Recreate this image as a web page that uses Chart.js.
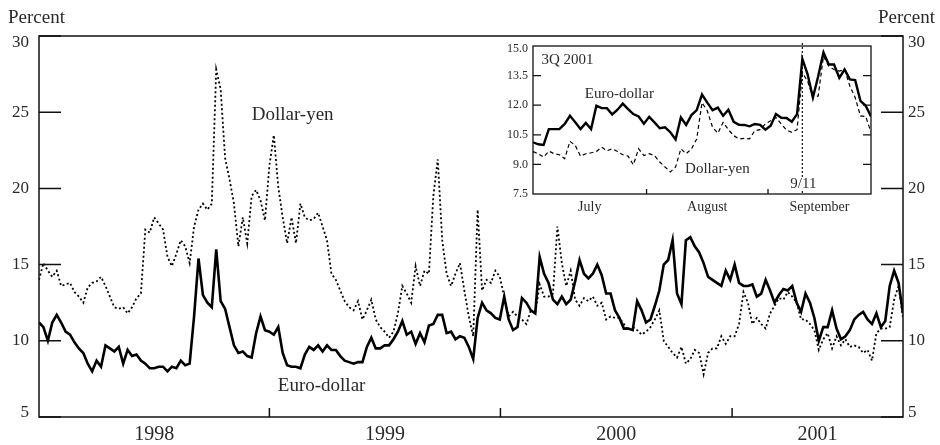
<!DOCTYPE html>
<html>
<head>
<meta charset="utf-8">
<script src="https://cdn.jsdelivr.net/npm/chart.js@4.4.1/dist/chart.umd.min.js"></script>
<style>
  body { margin: 0; background: #fff; }
  #wrap { position: relative; width: 940px; height: 445px; }
  #main { position: absolute; left: 0; top: 0; }
  #inset { position: absolute; left: 480px; top: 30px; }
</style>
</head>
<body>
<div id="wrap">
  <canvas id="main" width="940" height="445"></canvas>
  <canvas id="inset" width="400" height="200"></canvas>
</div>
<script>
/* main chart: weekly readings, first week starts 1998-01-02 */
const firstWeek = new Date('1998-01-02')
const years = ['1998', '1999', '2000', '2001']
const percentTicks = [5, 10, 15, 20, 25, 30]

const euroDollar = [
  11.2, 10.9, 10.0, 11.2, 11.7, 11.2, 10.6, 10.4, 9.9, 9.5,
  9.2, 8.5, 8.0, 8.7, 8.3, 9.7, 9.5, 9.3, 9.6, 8.5,
  9.4, 9.0, 9.1, 8.7, 8.5, 8.2, 8.2, 8.3, 8.3, 8.0,
  8.3, 8.2, 8.7, 8.4, 8.5, 11.6, 15.4, 13.0, 12.5, 12.2,
  16.0, 12.6, 12.1, 10.9, 9.7, 9.2, 9.3, 9.0, 8.9, 10.5,
  11.6, 10.7, 10.6, 10.4, 10.9, 9.2, 8.4, 8.3, 8.3, 8.2,
  9.1, 9.6, 9.4, 9.7, 9.3, 9.7, 9.4, 9.4, 9.0, 8.7,
  8.6, 8.5, 8.6, 8.6, 9.6, 10.2, 9.5, 9.5, 9.7, 9.7,
  10.1, 10.6, 11.3, 10.4, 10.6, 9.8, 10.5, 9.9, 11.0, 11.1,
  11.7, 11.7, 10.5, 10.6, 10.1, 10.3, 10.2, 9.6, 8.8, 11.5,
  12.5, 12.0, 11.8, 11.5, 11.4, 12.9, 11.4, 10.7, 10.9, 12.8,
  12.5, 12.0, 11.8, 15.5, 14.4, 13.8, 12.7, 12.4, 12.9, 12.4,
  12.7, 13.9, 15.3, 14.4, 14.1, 14.4, 15.0, 14.3, 13.1, 13.1,
  12.0, 11.5, 10.8, 10.8, 10.7, 12.6, 12.0, 11.2, 11.4, 12.3,
  13.3, 15.0, 15.3, 16.6, 13.1, 12.4, 16.6, 16.8, 16.2, 15.8,
  15.1, 14.2, 14.0, 13.8, 13.6, 14.6, 14.0, 15.0, 13.8, 13.6,
  13.6, 13.7, 12.9, 13.1, 14.0, 13.3, 12.5, 13.0, 13.4, 13.3,
  13.6, 12.5, 11.9, 13.1, 12.5, 11.5, 10.0, 10.9, 10.9, 12.0,
  10.8, 10.1, 10.3, 10.7, 11.4, 11.7, 11.9, 11.4, 11.1, 11.8,
  10.9, 11.3, 13.6, 14.6, 13.8, 11.8
]

const dollarYen = [
  14.0, 15.1, 14.6, 14.2, 14.6, 13.6, 13.7, 13.8, 13.2, 12.9,
  12.5, 13.5, 13.8, 13.9, 14.2, 13.6, 12.9, 12.2, 12.1, 12.2,
  11.8, 12.2, 12.8, 13.1, 17.3, 17.1, 18.1, 17.7, 17.3, 15.5,
  14.9, 15.7, 16.6, 16.2, 15.1, 17.5, 18.6, 19.0, 18.6, 19.0,
  27.8, 26.5, 22.0, 20.6, 19.0, 16.2, 18.1, 16.4, 19.5, 19.9,
  19.2, 17.9, 21.5, 23.5, 20.1, 18.1, 16.4, 18.1, 16.4, 19.0,
  18.1, 17.9, 18.0, 18.4, 17.5, 16.6, 14.4, 14.0, 13.3, 12.6,
  12.2, 12.0, 12.6, 11.4, 12.0, 12.7, 11.4, 10.9, 10.6, 10.2,
  10.6, 11.8, 13.6, 13.1, 12.5, 14.9, 13.6, 14.6, 14.4, 19.5,
  21.9, 16.6, 14.4, 13.6, 14.4, 15.1, 13.3, 11.6, 10.3, 18.6,
  13.3, 14.0, 13.8, 14.6, 14.2, 12.9, 11.6, 11.9, 11.6, 11.4,
  11.1, 12.0, 11.8, 13.7, 12.9, 12.9, 13.1, 17.5, 15.1, 13.6,
  14.6, 12.7, 12.3, 12.8, 12.6, 12.9, 12.3, 12.5, 11.4, 11.6,
  11.5, 11.5, 11.1, 10.7, 10.9, 10.7, 10.4, 10.6, 10.9, 11.4,
  12.0, 10.0, 9.6, 9.2, 8.9, 9.6, 8.5, 8.8, 9.4, 9.2,
  7.8, 9.2, 9.5, 9.5, 10.3, 9.8, 10.3, 10.3, 11.1, 13.2,
  12.5, 11.1, 11.5, 11.1, 10.8, 11.8, 12.3, 12.8, 12.7, 13.2,
  12.9, 12.5, 11.4, 11.4, 11.1, 10.7, 9.4, 10.1, 10.5, 9.5,
  10.3, 9.7, 10.1, 9.6, 9.7, 9.6, 9.2, 9.4, 8.7, 10.5,
  10.8, 10.8, 10.9, 12.7, 13.6, 11.5
]

/* inset: business days of 3Q 2001 */
const months = ['July', 'August', 'September']
const monthDays = [22, 23, 20]
const insetTicks = [7.5, 9.0, 10.5, 12.0, 13.5, 15.0]
const sept11 = 51

const insetEuro = [
  10.12, 10.02, 9.99, 10.79, 10.79, 10.79, 11.05, 11.46, 11.13, 10.79,
  11.10, 10.79, 11.97, 11.85, 11.85, 11.53, 11.77, 12.08, 11.80, 11.55,
  11.43, 11.06, 11.41, 11.13, 10.83, 10.88, 10.63, 10.26, 11.38, 11.00,
  11.50, 11.75, 12.54, 12.13, 11.75, 11.88, 11.46, 11.77, 11.16, 11.01,
  11.00, 10.93, 11.05, 11.00, 10.76, 10.96, 11.55, 11.36, 11.35, 11.16,
  11.55, 14.35, 13.56, 12.39, 13.47, 14.68, 14.06, 14.06, 13.39, 13.81,
  13.31, 13.27, 12.22, 11.97, 11.43
]

const insetYen = [
  9.65, 9.54, 9.37, 9.67, 9.54, 9.49, 9.29, 10.17, 9.96, 9.42,
  9.54, 9.59, 9.65, 9.87, 9.69, 9.79, 9.65, 9.49, 9.42, 8.98,
  9.79, 9.45, 9.54, 9.45, 9.12, 8.87, 8.62, 8.87, 9.79, 9.54,
  9.79, 10.29, 12.13, 11.72, 10.88, 10.58, 11.13, 10.76, 10.46, 10.29,
  10.32, 10.29, 10.71, 10.76, 11.05, 11.21, 11.38, 11.05, 10.74, 10.63,
  10.76, 13.64, 13.22, 12.39, 12.47, 14.48, 13.98, 13.81, 13.73, 13.81,
  12.97, 12.39, 11.46, 11.43, 10.63
]

const serif = '"Liberation Serif", "Times New Roman", serif'
const toPoints = (arr) => arr.map((v, i) => ({ x: i, y: v }))
const weekOf = (d) => (new Date(d) - firstWeek) / (7 * 864e5)

/* week index where each year begins */
const yearStarts = years.slice(1).map(y => weekOf(`${y}-01-01`))

const mainFrame = {
  id: 'mainFrame',
  afterDraw(chart) {
    const { ctx, chartArea: a, scales: { x, y } } = chart
    ctx.save()
    ctx.strokeStyle = '#111'
    ctx.lineWidth = 1.5
    ctx.strokeRect(a.left, a.top, a.right - a.left, a.bottom - a.top)
    percentTicks.forEach(v => {
      const py = y.getPixelForValue(v)
      ctx.beginPath()
      ctx.moveTo(a.left, py); ctx.lineTo(a.left + 22, py)
      ctx.moveTo(a.right, py); ctx.lineTo(a.right - 22, py)
      ctx.stroke()
    })
    yearStarts.forEach(w => {
      const px = x.getPixelForValue(w)
      ctx.beginPath()
      ctx.moveTo(px, a.bottom); ctx.lineTo(px, a.bottom - 9)
      ctx.stroke()
    })

    ctx.fillStyle = '#2a2a2a'
    ctx.textBaseline = 'middle'
    ctx.font = `17px ${serif}`
    percentTicks.forEach((v, i) => {
      let py = y.getPixelForValue(v)
      if (i === 0) py -= 4
      if (i === percentTicks.length - 1) py += 7
      ctx.textAlign = 'right'
      ctx.fillText(String(v), a.left - 10, py)
      ctx.textAlign = 'left'
      ctx.fillText(String(v), a.right + 5, py)
    })
    ctx.font = `19px ${serif}`
    ctx.textAlign = 'left'
    ctx.fillText('Percent', 8, 18)
    ctx.textAlign = 'right'
    ctx.fillText('Percent', 935, 18)

    ctx.font = `20px ${serif}`
    ctx.textAlign = 'center'
    const edges = [x.min, ...yearStarts, x.max]
    years.forEach((yr, i) => {
      const px = (x.getPixelForValue(edges[i]) + x.getPixelForValue(edges[i + 1])) / 2
      ctx.fillText(yr, px, a.bottom + 18)
    })

    ctx.font = `19px ${serif}`
    ctx.textAlign = 'left'
    ctx.fillText('Dollar-yen', x.getPixelForValue(48), y.getPixelForValue(24.8))
    ctx.fillText('Euro-dollar', x.getPixelForValue(53.9), y.getPixelForValue(7.05))
    ctx.restore()
  }
}

new Chart(document.querySelector('#main'), {
  type: 'line',
  data: {
    datasets: [
      { label: 'Euro-dollar', data: toPoints(euroDollar), borderColor: '#000', borderWidth: 2.6 },
      { label: 'Dollar-yen', data: toPoints(dollarYen), borderColor: '#000', borderWidth: 1.8, borderDash: [2, 2.5] }
    ]
  },
  options: {
    responsive: false,
    animation: false,
    layout: { padding: { left: 39, right: 37, top: 36, bottom: 28 } },
    elements: { point: { radius: 0 }, line: { tension: 0 } },
    plugins: { legend: { display: false }, tooltip: { enabled: false } },
    scales: {
      x: { type: 'linear', display: false, min: 0, max: euroDollar.length - 1 },
      y: { display: false, min: 5, max: 30 }
    }
  },
  plugins: [mainFrame]
})

/* month edges in business-day index */
const monthEdges = []
monthDays.reduce((sum, n) => { monthEdges.push(sum + n - 0.5); return sum + n }, 0)

const insetFrame = {
  id: 'insetFrame',
  beforeDatasetsDraw(chart) {
    const { ctx, chartArea: a, scales: { x } } = chart
    ctx.save()
    ctx.fillStyle = '#fff'
    ctx.fillRect(a.left, a.top, a.right - a.left, a.bottom - a.top)
    const px = x.getPixelForValue(sept11)
    ctx.strokeStyle = '#111'
    ctx.lineWidth = 1.2
    ctx.setLineDash([2, 2])
    ctx.beginPath()
    ctx.moveTo(px, a.top - 3); ctx.lineTo(px, a.bottom)
    ctx.stroke()
    ctx.restore()
  },
  afterDraw(chart) {
    const { ctx, chartArea: a, scales: { x, y } } = chart
    ctx.save()
    ctx.strokeStyle = '#111'
    ctx.lineWidth = 1.3
    ctx.strokeRect(a.left, a.top, a.right - a.left, a.bottom - a.top)
    insetTicks.slice(1, -1).forEach(v => {
      const py = y.getPixelForValue(v)
      ctx.beginPath()
      ctx.moveTo(a.left, py); ctx.lineTo(a.left + 8, py)
      ctx.moveTo(a.right, py); ctx.lineTo(a.right - 8, py)
      ctx.stroke()
    })
    monthEdges.slice(0, -1).forEach(d => {
      const px = x.getPixelForValue(d)
      ctx.beginPath()
      ctx.moveTo(px, a.bottom); ctx.lineTo(px, a.bottom - 5)
      ctx.stroke()
    })

    ctx.fillStyle = '#2a2a2a'
    ctx.textBaseline = 'middle'
    ctx.font = `12px ${serif}`
    ctx.textAlign = 'right'
    insetTicks.forEach((v, i) => {
      let py = y.getPixelForValue(v)
      if (i === insetTicks.length - 1) py += 3
      ctx.fillText(v.toFixed(1), a.left - 5, py)
    })
    ctx.font = `14px ${serif}`
    ctx.textAlign = 'center'
    const edges = [x.min, ...monthEdges.slice(0, -1), x.max]
    months.forEach((m, i) => {
      const px = (x.getPixelForValue(edges[i]) + x.getPixelForValue(edges[i + 1])) / 2
      ctx.fillText(m, px, a.bottom + 13)
    })

    ctx.font = `15px ${serif}`
    ctx.textAlign = 'left'
    ctx.fillText('3Q 2001', x.getPixelForValue(1.6), y.getPixelForValue(14.3))
    ctx.fillText('Euro-dollar', x.getPixelForValue(9.8), y.getPixelForValue(12.55))
    ctx.fillText('Dollar-yen', x.getPixelForValue(28.8), y.getPixelForValue(8.77))

    /* 9/11 label sits on a white patch that breaks the dotted line */
    const lx = x.getPixelForValue(sept11 + 0.2)
    const ly = y.getPixelForValue(8.0)
    const w = ctx.measureText('9/11').width
    ctx.fillStyle = '#fff'
    ctx.fillRect(lx - w / 2 - 1, ly - 7, w + 2, 13)
    ctx.fillStyle = '#2a2a2a'
    ctx.textAlign = 'center'
    ctx.fillText('9/11', lx, ly)
    ctx.restore()
  }
}

new Chart(document.querySelector('#inset'), {
  type: 'line',
  data: {
    datasets: [
      { label: 'Euro-dollar', data: toPoints(insetEuro), borderColor: '#000', borderWidth: 2.4 },
      { label: 'Dollar-yen', data: toPoints(insetYen), borderColor: '#000', borderWidth: 1.2, borderDash: [4, 3] }
    ]
  },
  options: {
    responsive: false,
    animation: false,
    layout: { padding: { left: 53, right: 9, top: 16, bottom: 36 } },
    elements: { point: { radius: 0 }, line: { tension: 0 } },
    plugins: { legend: { display: false }, tooltip: { enabled: false } },
    scales: {
      x: { type: 'linear', display: false, min: 0, max: insetEuro.length - 1 },
      y: { display: false, min: 7.5, max: 15 }
    }
  },
  plugins: [insetFrame]
})
</script>
</body>
</html>
